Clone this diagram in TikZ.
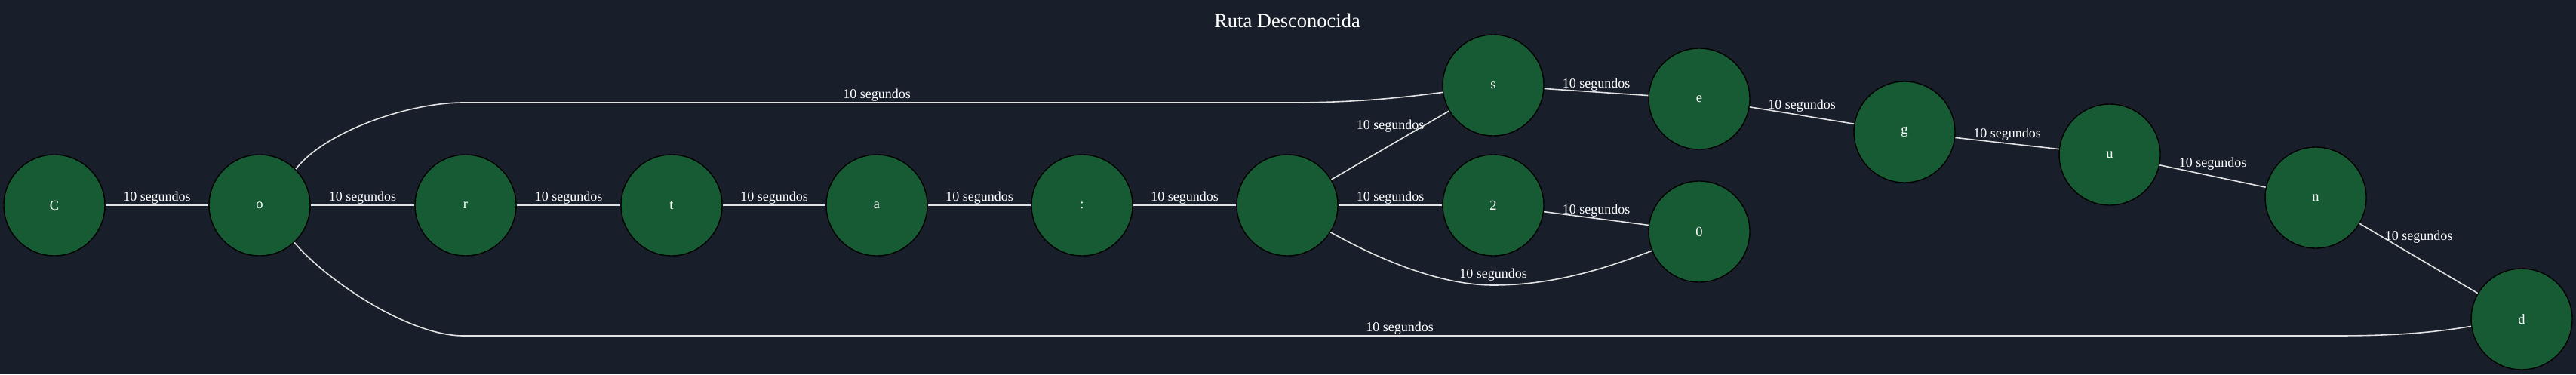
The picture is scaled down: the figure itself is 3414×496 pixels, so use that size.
\documentclass[tikz,border=0pt]{standalone}
\usepackage{fontspec}
\setmainfont{Liberation Serif}
\definecolor{fondo}{HTML}{181F2B}
\definecolor{verde}{HTML}{175B35}
\definecolor{linea}{HTML}{E2E2E2}
\tikzset{
  letra/.style={circle, draw=black, line width=1.4pt, fill=verde, minimum size=134pt,
    inner sep=0pt, text=white, font=\fontsize{18.5}{20}\selectfont},
  arista/.style={draw=linea, line width=1.6pt},
  tiempo/.style={text=white, inner sep=1pt, font=\fontsize{18}{20}\selectfont}
}
\begin{document}
\begin{tikzpicture}[x=1pt, y=-1pt]
    % Fondo y marco
    \fill[fondo] (0,0) rectangle (3414,496);
    \useasboundingbox (0,0) rectangle (3414,496);

    % Titulo
    \node[text=white, font=\fontsize{26.5}{30}\selectfont] (titulo) at (1706,27) {Ruta Desconocida};

    % Dibuja los nodos
    \node[letra] (C) at (72,272) {C};
    \node[letra] (o) at (344,272) {o};
    \node[letra] (r) at (617,272) {r};
    \node[letra] (t) at (890,272) {t};
    \node[letra] (a) at (1162,272) {a};
    \node[letra] (dospuntos) at (1434,272) {:};
    \node[letra] (vacio) at (1706,272) {};
    \node[letra] (s) at (1979,113) {s};
    \node[letra] (dos) at (1979,272) {2};
    \node[letra] (e) at (2252,131) {e};
    \node[letra] (cero) at (2252,307) {0};
    \node[letra] (g) at (2524,175) {g};
    \node[letra] (u) at (2796,205) {u};
    \node[letra] (n) at (3069,262) {n};
    \node[letra] (d) at (3342,423) {d};

    % Dibuja las aristas rectas
    \draw[arista] (C) -- node[tiempo, above] {10 segundos} (o);
    \draw[arista] (o) -- node[tiempo, above] {10 segundos} (r);
    \draw[arista] (r) -- node[tiempo, above] {10 segundos} (t);
    \draw[arista] (t) -- node[tiempo, above] {10 segundos} (a);
    \draw[arista] (a) -- node[tiempo, above] {10 segundos} (dospuntos);
    \draw[arista] (dospuntos) -- node[tiempo, above] {10 segundos} (vacio);
    \draw[arista] (vacio) -- node[tiempo, above] {10 segundos} (dos);
    \draw[arista] (vacio) -- node[tiempo, above, yshift=15pt] {10 segundos} (s);
    \draw[arista] (s) -- node[tiempo, above] {10 segundos} (e);
    \draw[arista] (dos) -- node[tiempo, above] {10 segundos} (cero);
    \draw[arista] (e) -- node[tiempo, above, yshift=3pt] {10 segundos} (g);
    \draw[arista] (g) -- node[tiempo, above, yshift=2pt] {10 segundos} (u);
    \draw[arista] (u) -- node[tiempo, above, yshift=6pt] {10 segundos} (n);
    \draw[arista] (n) -- node[tiempo, above, yshift=18pt] {10 segundos} (d);

    % Dibuja las aristas curvas
    \draw[arista] (o.45) .. controls (430,175) and (540,136) .. (614,136)
        -- node[tiempo, above] {10 segundos} (1710,136)
        .. controls (1800,136) and (1860,129) .. (s.188);
    \draw[arista] (o.-47) .. controls (430,369) and (540,445) .. (614,445)
        -- node[tiempo, above] {10 segundos} (3096,445)
        .. controls (3180,445) and (3230,440) .. (d.188);
    \draw[arista] (vacio.-32) .. controls (1830,345) and (1910,378) .. (1979,378)
        node[tiempo, above, yshift=4pt] {10 segundos}
        .. controls (2060,378) and (2130,355) .. (cero.202);
\end{tikzpicture}
\end{document}
